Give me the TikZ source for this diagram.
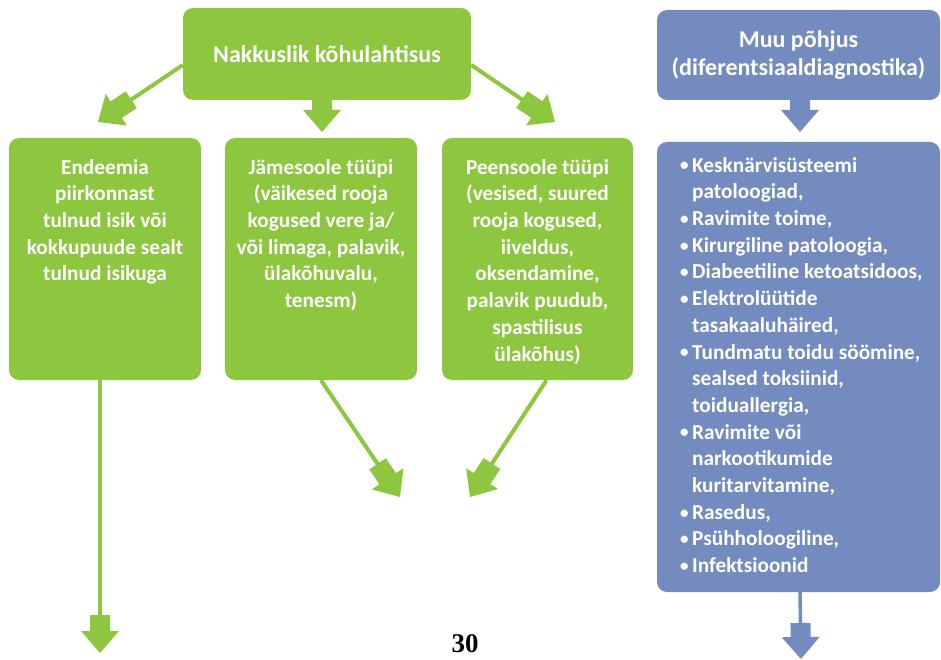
\documentclass[tikz,border=0pt]{standalone}
\usepackage{fontspec}
\setmainfont{Carlito}
\newfontfamily\numfont{Liberation Serif}
\usetikzlibrary{calc}

\definecolor{leaf}{RGB}{141,198,63}
\definecolor{slate}{RGB}{116,139,191}

% block arrow head: thick shaft piece plus triangle, pointing from #1 towards #2
% #3 colour, #4 distance from tip to the back of the shaft piece
\newcommand\blockhead[4]{%
  \fill[#3] let \p1=($(#2)-(#1)$), \n1={atan2(\y1,\x1)} in
    (#2)
    -- ($(#2)+(\n1+180:22pt)+(\n1+90:19pt)$)
    -- ($(#2)+(\n1+180:22pt)+(\n1+90:10pt)$)
    -- ($(#2)+(\n1+180:#4)+(\n1+90:10pt)$)
    -- ($(#2)+(\n1+180:#4)+(\n1-90:10pt)$)
    -- ($(#2)+(\n1+180:22pt)+(\n1-90:10pt)$)
    -- ($(#2)+(\n1+180:22pt)+(\n1-90:19pt)$)
    -- cycle;}

\newcommand\bul{\makebox[13pt][l]{\hspace*{1pt}\raisebox{1.2pt}{\scalebox{0.8}{•}}}}
\newcommand\cont{\hspace*{13pt}}

\tikzset{
  box/.style={rounded corners=10pt, inner sep=0pt, draw=none},
  greenbox/.style={box, fill=leaf},
  bluebox/.style={box, fill=slate},
  body/.style={text=white, font=\bfseries\fontsize{21.3}{26.7}\selectfont,
    align=center, inner sep=0pt},
  head/.style={text=white, font=\bfseries\fontsize{24}{28.5}\selectfont,
    align=center, inner sep=0pt},
  link/.style={line width=4pt},
}

\begin{document}
\begin{tikzpicture}[x=1pt, y=-1pt]
\useasboundingbox (0,0) rectangle (941,660);

% boxes
\node[greenbox, minimum width=288pt, minimum height=92pt] (top) at (327,54) {};
\node[bluebox, minimum width=283pt, minimum height=90pt] (muu) at (798.5,55) {};
\node[greenbox, minimum width=192pt, minimum height=242pt] (ende) at (105,259) {};
\node[greenbox, minimum width=192pt, minimum height=242pt] (jame) at (321,259) {};
\node[greenbox, minimum width=191pt, minimum height=242pt] (peen) at (537.5,259) {};
\node[bluebox, minimum width=283pt, minimum height=450pt] (list) at (798.5,367) {};

% texts
\node[head] (toptext) at (top.center) {Nakkuslik kõhulahtisus};
\node[head] (muutext) at (muu.center) {Muu põhjus\\(diferentsiaaldiagnostika)};
\node[body, anchor=north] (endetext) at (105,159)
  {Endeemia\\piirkonnast\\tulnud isik või\\kokkupuude sealt\\tulnud isikuga};
\node[body, anchor=north] (jametext) at (321,159)
  {Jämesoole tüüpi\\(väikesed rooja\\kogused vere ja/\\või limaga, palavik,\\ülakõhuvalu,\\tenesm)};
\node[body, anchor=north] (peentext) at (537.5,159)
  {Peensoole tüüpi\\(vesised, suured\\rooja kogused,\\iiveldus,\\oksendamine,\\palavik puudub,\\spastilisus\\ülakõhus)};
\node[body, align=left, anchor=north west] (listtext) at (679,157)
  {\bul Kesknärvisüsteemi\\\cont patoloogiad,\\\bul Ravimite toime,\\\bul Kirurgiline patoloogia,\\
   \bul Diabeetiline ketoatsidoos,\\\bul Elektrolüütide\\\cont tasakaaluhäired,\\
   \bul Tundmatu toidu söömine,\\\cont sealsed toksiinid,\\\cont toiduallergia,\\
   \bul Ravimite või\\\cont narkootikumide\\\cont kuritarvitamine,\\
   \bul Rasedus,\\\bul Psühholoogiline,\\\bul Infektsioonid};

\node[font=\numfont\bfseries\fontsize{27}{30}\selectfont] (page) at (465,644) {30};

% free ends of the connectors
\coordinate (tipL) at (98,122);
\coordinate (tipR) at (555,122);
\coordinate (tipM) at (322,132);
\coordinate (tipB) at (800,132);
\coordinate (tipE) at (100,653);
\coordinate (tipJ) at (400,497);
\coordinate (tipP) at (470,497);
\coordinate (tipS) at (801,659);

% thin connector lines
\draw[link, leaf] ([yshift=-11pt]top.west) -- ($(tipL)!30pt!([yshift=-11pt]top.west)$);
\draw[link, leaf] ([yshift=-11pt]top.east) -- ($(tipR)!30pt!([yshift=-11pt]top.east)$);
\draw[link, leaf] ([xshift=-5pt]ende.south) -- ($(tipE)!30pt!([xshift=-5pt]ende.south)$);
\draw[link, leaf] (jame.south) -- ($(tipJ)!30pt!(jame.south)$);
\draw[link, leaf] ([xshift=9pt]peen.south) -- ($(tipP)!30pt!([xshift=9pt]peen.south)$);
\draw[link, slate, line width=3.5pt] ([xshift=1.5pt]list.south) -- ($(tipS)!30pt!([xshift=1.5pt]list.south)$);

% arrow heads
\blockhead{[yshift=-11pt]top.west}{tipL}{leaf}{40pt}
\blockhead{[yshift=-11pt]top.east}{tipR}{leaf}{40pt}
\blockhead{[xshift=-5pt]top.south}{tipM}{leaf}{32pt}
\blockhead{[xshift=1.5pt]muu.south}{tipB}{slate}{32pt}
\blockhead{[xshift=-5pt]ende.south}{tipE}{leaf}{38pt}
\blockhead{jame.south}{tipJ}{leaf}{40pt}
\blockhead{[xshift=9pt]peen.south}{tipP}{leaf}{40pt}
\blockhead{[xshift=1.5pt]list.south}{tipS}{slate}{36pt}
\end{tikzpicture}
\end{document}
